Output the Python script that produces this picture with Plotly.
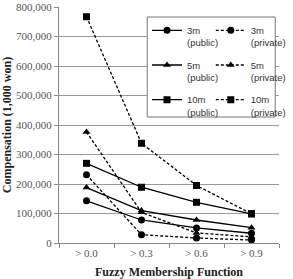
import plotly.graph_objects as go

categories = ["> 0.0", "> 0.3", "> 0.6", "> 0.9"]
tick_vals = [0, 100000, 200000, 300000, 400000, 500000, 600000, 700000, 800000]
tick_text = ["0", "100,000", "200,000", "300,000", "400,000", "500,000", "600,000", "700,000", "800,000"]

pub_3m = [143000, 78000, 51000, 33000]
priv_3m = [231000, 28000, 17000, 10000]
pub_5m = [188000, 110000, 78000, 52000]
priv_5m = [376000, 104000, 34000, 21000]
pub_10m = [270000, 189000, 138000, 99000]
priv_10m = [767000, 338000, 195000, 99000]

series = [
    ("3m<br>(public)", pub_3m, "circle", "solid", "legend"),
    ("5m<br>(public)", pub_5m, "triangle-up", "solid", "legend"),
    ("10m<br>(public)", pub_10m, "square", "solid", "legend"),
    ("3m<br>(private)", priv_3m, "circle", "3px,2px", "legend2"),
    ("5m<br>(private)", priv_5m, "triangle-up", "3px,2px", "legend2"),
    ("10m<br>(private)", priv_10m, "square", "3px,2px", "legend2"),
]

fig = go.Figure()
for i, (name, vals, sym, dash, leg) in enumerate(series):
    fig.add_trace(go.Scatter(
        x=categories, y=vals, name=name, mode="lines+markers",
        line=dict(color="black", width=1.3, dash=dash),
        marker=dict(symbol=sym, size=7, color="black"),
        legend=leg, legendgroup="g%d" % i,
    ))

leg_common = dict(
    bgcolor="rgba(0,0,0,0)", borderwidth=0,
    font=dict(family="Liberation Sans", size=9.5, color="#333"),
    tracegroupgap=7, itemwidth=30, valign="top",
    yanchor="top", xanchor="left",
)

fig.update_layout(
    width=293, height=279,
    margin=dict(l=59, r=2, t=7, b=36),
    paper_bgcolor="white", plot_bgcolor="white",
    showlegend=True,
    legend=dict(x=0.4, y=0.955, **leg_common),
    legend2=dict(x=0.69, y=0.955, **leg_common),
    xaxis=dict(
        type="category", categoryorder="array", categoryarray=categories,
        range=[-0.5, 3.5], showgrid=False, showline=True, linecolor="#888", linewidth=1,
        ticks="outside", tickson="boundaries", ticklen=4, tickcolor="#888",
        tickfont=dict(family="Liberation Serif", size=11, color="#555"),
        title=dict(text="<b>Fuzzy Membership Function</b>",
                   font=dict(family="Liberation Serif", size=12, color="#222"), standoff=9),
    ),
    yaxis=dict(
        range=[0, 800000], tickvals=tick_vals, ticktext=tick_text,
        showgrid=True, gridcolor="#999", gridwidth=1,
        showline=True, linecolor="#888", linewidth=1, zeroline=False,
        ticks="outside", ticklen=4, tickcolor="#888",
        tickfont=dict(family="Liberation Serif", size=11, color="#555"),
        title=dict(text="<b>Compensation (1,000 won)</b>",
                   font=dict(family="Liberation Serif", size=12, color="#222"), standoff=4),
    ),
    shapes=[dict(type="rect", xref="paper", yref="paper", layer="above",
                 x0=(152 - 59) / 232, x1=(287 - 59) / 232,
                 y0=(243 - 117) / 236, y1=(243 - 17) / 236,
                 line=dict(color="#777", width=1), fillcolor="white")],
)

fig.write_html("out.html")
